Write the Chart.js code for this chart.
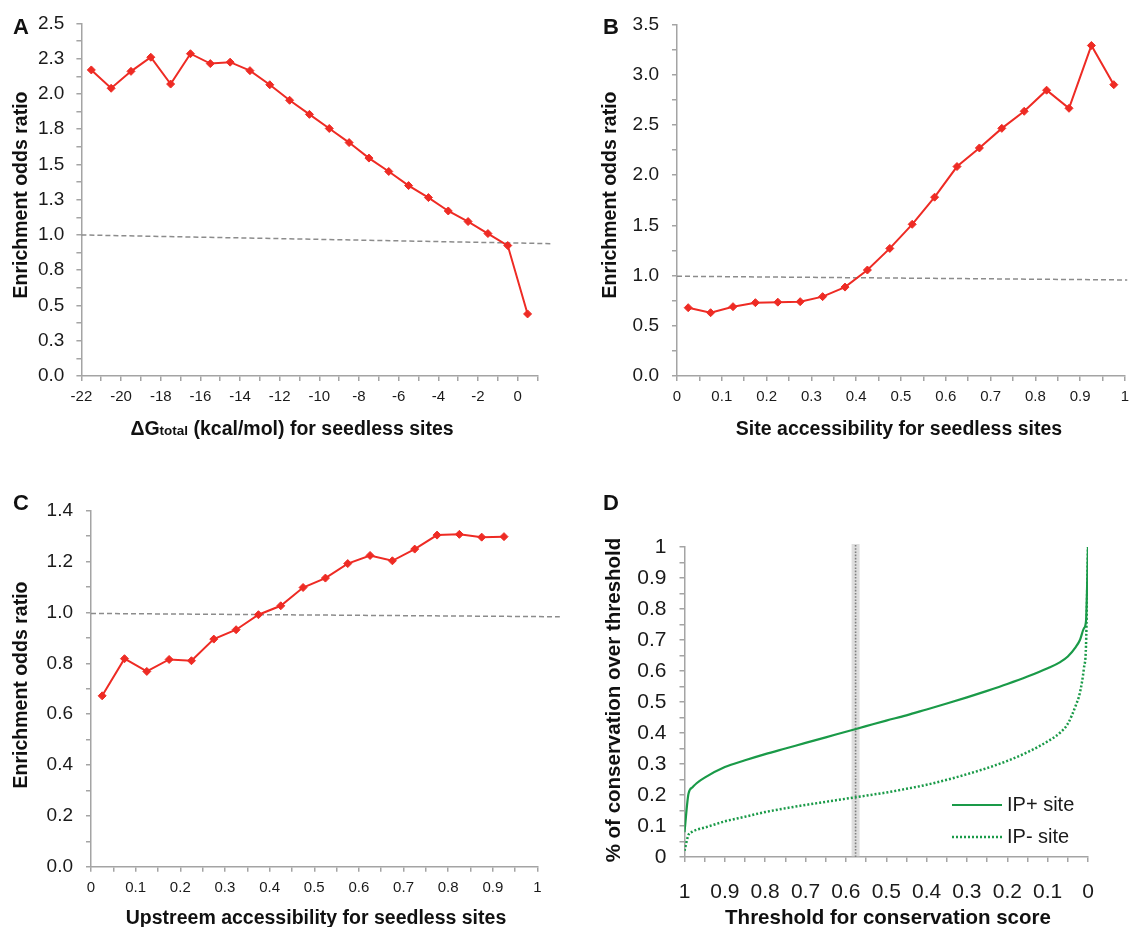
<!DOCTYPE html>
<html>
<head>
<meta charset="utf-8">
<script src="https://cdn.jsdelivr.net/npm/chart.js@4.4.1/dist/chart.umd.min.js"></script>
<style>
  html, body { margin: 0; padding: 0; background: #fff; overflow: hidden; }
  body { width: 1129px; height: 927px; position: relative; font-family: 'Liberation Sans', Arial, sans-serif; color: #111; }
  canvas { position: absolute; }
  .lbl { position: absolute; font-weight: bold; white-space: nowrap; transform: translate(-50%, -50%); }
  .vert { transform: translate(-50%, -50%) rotate(-90deg); }
  .panel { font-size: 22px; }
  .ttl { font-size: 19.5px; }
  .big { font-size: 20.5px; }
  .small { font-size: 13.5px; }
</style>
</head>
<body>
<canvas id="cA"></canvas>
<canvas id="cB"></canvas>
<canvas id="cC"></canvas>
<canvas id="cD"></canvas>

<div class="lbl panel" style="left:21px;top:27px">A</div>
<div class="lbl panel" style="left:611px;top:27px">B</div>
<div class="lbl panel" style="left:21px;top:503px">C</div>
<div class="lbl panel" style="left:611px;top:503px">D</div>

<div class="lbl ttl vert" style="left:20px;top:195px">Enrichment odds ratio</div>
<div class="lbl ttl" style="left:292px;top:428px">ΔG<span class="small">total</span> (kcal/mol) for seedless sites</div>
<div class="lbl ttl vert" style="left:609px;top:195px">Enrichment odds ratio</div>
<div class="lbl ttl" style="left:899px;top:428px">Site accessibility for seedless sites</div>
<div class="lbl ttl vert" style="left:20px;top:685px">Enrichment odds ratio</div>
<div class="lbl ttl" style="left:316px;top:917px">Upstreem accessibility for seedless sites</div>
<div class="lbl big vert" style="left:613px;top:700px">% of conservation over threshold</div>
<div class="lbl big" style="left:888px;top:917px">Threshold for conservation score</div>

<script>
// ---- data ----
const binsA = [-21.5, -20.5, -19.5, -18.5, -17.5, -16.5, -15.5, -14.5, -13.5, -12.5, -11.5, -10.5,
  -9.5, -8.5, -7.5, -6.5, -5.5, -4.5, -3.5, -2.5, -1.5, -0.5, 0.5];
const oddsA = [2.17, 2.04, 2.16, 2.26, 2.07, 2.285, 2.215, 2.225, 2.165, 2.065, 1.955, 1.855,
  1.755, 1.655, 1.545, 1.45, 1.35, 1.265, 1.17, 1.095, 1.01, 0.925, 0.44];
const refA = [{x: -22, y: 1.0}, {x: 1.76, y: 0.938}];
const yLabelsA = ['0.0', '0.3', '0.5', '0.8', '1.0', '1.3', '1.5', '1.8', '2.0', '2.3', '2.5'];
const xLabelsA = ['-22', '-20', '-18', '-16', '-14', '-12', '-10', '-8', '-6', '-4', '-2', '0'];

const binsB = [0.025, 0.075, 0.125, 0.175, 0.225, 0.275, 0.325, 0.375, 0.425, 0.475,
  0.525, 0.575, 0.625, 0.675, 0.725, 0.775, 0.825, 0.875, 0.925, 0.975];
const oddsB = [0.68, 0.63, 0.69, 0.73, 0.735, 0.74, 0.79, 0.885, 1.055, 1.27,
  1.51, 1.78, 2.085, 2.27, 2.465, 2.635, 2.845, 2.665, 3.29, 2.9];
const refB = [{x: 0, y: 0.993}, {x: 1.005, y: 0.956}];
const yLabelsB = ['0.0', '0.5', '1.0', '1.5', '2.0', '2.5', '3.0', '3.5'];

const binsC = [0.025, 0.075, 0.125, 0.175, 0.225, 0.275, 0.325, 0.375, 0.425, 0.475,
  0.525, 0.575, 0.625, 0.675, 0.725, 0.775, 0.825, 0.875, 0.925];
const oddsC = [0.672, 0.818, 0.768, 0.815, 0.81, 0.895, 0.932, 0.991, 1.026, 1.098,
  1.135, 1.192, 1.224, 1.203, 1.249, 1.304, 1.307, 1.296, 1.298];
const refC = [{x: 0, y: 0.996}, {x: 1.05, y: 0.983}];
const yLabelsC = ['0.0', '0.2', '0.4', '0.6', '0.8', '1.0', '1.2', '1.4'];

const xLabelsBC = ['0', '0.1', '0.2', '0.3', '0.4', '0.5', '0.6', '0.7', '0.8', '0.9', '1'];

const thresholdD = [1, 0.99, 0.98, 0.97, 0.95, 0.9, 0.85, 0.8, 0.75, 0.7, 0.65, 0.6, 0.55, 0.5,
  0.45, 0.4, 0.35, 0.3, 0.25, 0.2, 0.15, 0.1, 0.07, 0.05, 0.03, 0.02, 0.01, 0.005, 0];
const ipPlus = [0.08, 0.205, 0.225, 0.238, 0.256, 0.29, 0.312, 0.332, 0.35, 0.368, 0.386, 0.404, 0.422, 0.44,
  0.457, 0.476, 0.495, 0.515, 0.536, 0.558, 0.582, 0.609, 0.628, 0.647, 0.678, 0.70, 0.738, 0.76, 1.0];
const ipMinus = [0.02, 0.072, 0.082, 0.088, 0.095, 0.115, 0.13, 0.145, 0.157, 0.168, 0.178, 0.188, 0.198, 0.208,
  0.22, 0.233, 0.249, 0.267, 0.287, 0.31, 0.338, 0.373, 0.40, 0.43, 0.49, 0.53, 0.61, 0.68, 1.0];
const cutoffD = 0.576;
const yLabelsD = ['0', '0.1', '0.2', '0.3', '0.4', '0.5', '0.6', '0.7', '0.8', '0.9', '1'];
const xLabelsD = ['0', '0.1', '0.2', '0.3', '0.4', '0.5', '0.6', '0.7', '0.8', '0.9', '1'];

// ---- styling helpers ----
const FONT = "'Liberation Sans', Arial, Helvetica, sans-serif";
const GRAY = '#a4a4a4';
const RED = '#ee2b24';
const GREEN = '#1a9a48';

// ticks every `step`, a label on every second one (looked up by value, so reversed axes work)
function axis(min, max, step, labels, size, pad, extra) {
  return Object.assign({
    type: 'linear', min: min, max: max,
    grid: { drawOnChartArea: false, drawTicks: true, tickLength: 5, color: GRAY, lineWidth: 1.5 },
    border: { color: GRAY, width: 1.5 },
    ticks: {
      stepSize: step, maxTicksLimit: 1000, autoSkip: false, maxRotation: 0, minRotation: 0,
      padding: pad, color: '#1a1a1a', font: { family: FONT, size: size },
      callback: (v) => {
        const k = Math.round((v - min) / step);
        return (k % 2 === 0 && labels[k / 2] !== undefined) ? labels[k / 2] : '';
      }
    }
  }, extra || {});
}

function oddsSet(xs, ys) {
  return {
    data: xs.map((x, i) => ({x: x, y: ys[i]})),
    borderColor: RED, backgroundColor: RED, borderWidth: 2,
    pointStyle: 'rectRot', pointRadius: 4, pointBackgroundColor: RED, pointBorderColor: RED, pointBorderWidth: 1
  };
}

function refSet(pts) {
  return {
    data: pts, borderColor: '#8c8c8c', borderWidth: 1.5, borderDash: [5, 3],
    pointRadius: 0, clip: false
  };
}

function makeChart(id, box, area, datasets, xScale, yScale, plugins) {
  const cv = document.getElementById(id);
  cv.width = box.w; cv.height = box.h;
  cv.style.left = box.x + 'px'; cv.style.top = box.y + 'px';
  const yW = area.l - box.x;
  const xH = box.y + box.h - area.b;
  xScale.afterFit = s => { s.height = xH; };
  yScale.afterFit = s => { s.width = yW; };
  return new Chart(cv, {
    type: 'line',
    data: { datasets: datasets },
    options: {
      responsive: false, animation: false, devicePixelRatio: 1,
      layout: { padding: { left: 0, top: area.t - box.y, right: box.x + box.w - area.r, bottom: 0 } },
      plugins: { legend: { display: false }, tooltip: { enabled: false } },
      scales: { x: xScale, y: yScale }
    },
    plugins: plugins || []
  });
}

// ---- A ----
makeChart('cA', {x: 0, y: 0, w: 560, h: 420}, {l: 81.4, r: 537.5, t: 19.3, b: 376},
  [oddsSet(binsA, oddsA), refSet(refA)],
  axis(-22, 1, 1, xLabelsA, 15, 7),
  axis(0, 2.5, 0.125, yLabelsA, 19, 12));

// ---- B ----
makeChart('cB', {x: 560, y: 0, w: 580, h: 420}, {l: 677, r: 1125, t: 19.3, b: 376},
  [oddsSet(binsB, oddsB), refSet(refB)],
  axis(0, 1, 0.05, xLabelsBC, 15, 7),
  axis(0, 3.5, 0.25, yLabelsB, 19, 13));

// ---- C ----
makeChart('cC', {x: 0, y: 470, w: 560, h: 440}, {l: 91, r: 537.5, t: 510.7, b: 866.7},
  [oddsSet(binsC, oddsC), refSet(refC)],
  axis(0, 1, 0.05, xLabelsBC, 15, 7),
  axis(0, 1.4, 0.1, yLabelsC, 19, 13));

// ---- D ----
const legendD = {
  id: 'legendD',
  afterDatasetsDraw(chart) {
    const ctx = chart.ctx;
    const rows = [[0, 'IP+ site', 335], [1, 'IP- site', 367]];
    ctx.save();
    rows.forEach(([idx, text, y]) => {
      const ds = chart.data.datasets[idx];
      ctx.beginPath();
      ctx.strokeStyle = ds.borderColor;
      ctx.lineWidth = ds.borderWidth;
      ctx.setLineDash(ds.borderDash || []);
      ctx.moveTo(392, y);
      ctx.lineTo(442, y);
      ctx.stroke();
      ctx.setLineDash([]);
      ctx.fillStyle = '#1a1a1a';
      ctx.font = '20px ' + FONT;
      ctx.textBaseline = 'middle';
      ctx.fillText(text, 447, y);
    });
    ctx.restore();
  }
};

makeChart('cD', {x: 560, y: 470, w: 569, h: 440}, {l: 684.5, r: 1088, t: 547, b: 857},
  [
    { data: thresholdD.map((t, i) => ({x: t, y: ipPlus[i]})), borderColor: GREEN, borderWidth: 2.2,
      pointRadius: 0, cubicInterpolationMode: 'monotone' },
    { data: thresholdD.map((t, i) => ({x: t, y: ipMinus[i]})), borderColor: GREEN, borderWidth: 2.5,
      borderDash: [2, 2], pointRadius: 0, cubicInterpolationMode: 'monotone' },
    { data: [{x: cutoffD, y: 0}, {x: cutoffD, y: 1.01}], borderColor: '#7f7f7f', borderWidth: 1.6, borderDash: [1.6, 1.6], pointRadius: 0, clip: false },
    { data: [{x: cutoffD, y: 0}, {x: cutoffD, y: 1.01}], borderColor: 'rgba(190,190,190,0.5)', borderWidth: 8, pointRadius: 0, clip: false }
  ],
  axis(0, 1, 0.05, xLabelsD, 21, 18, { reverse: true }),
  axis(0, 1, 0.05, yLabelsD, 21, 13),
  [legendD]);
</script>
</body>
</html>
